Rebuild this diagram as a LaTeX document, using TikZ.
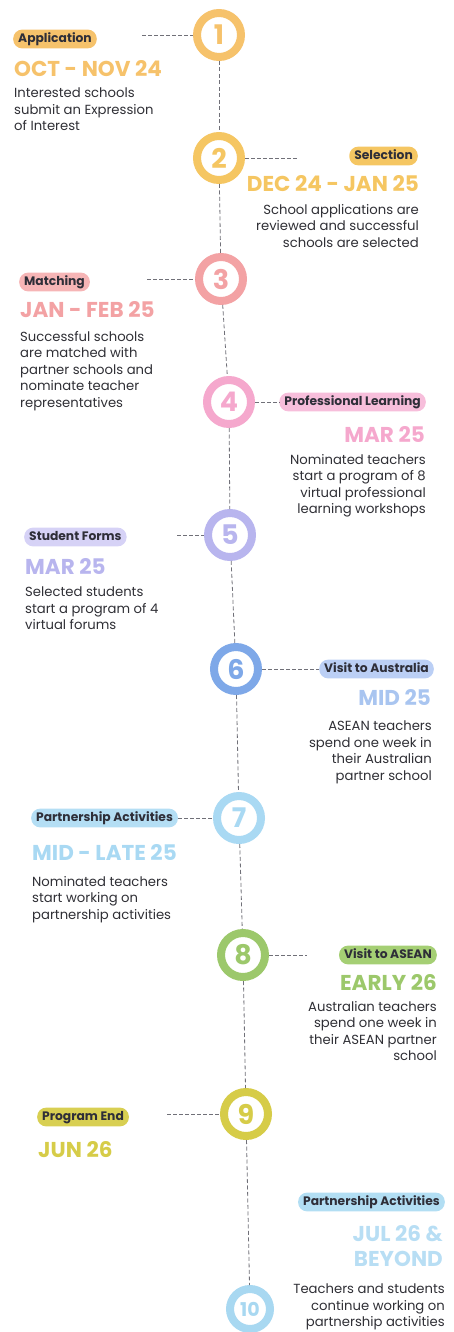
\documentclass[tikz,border=0pt]{standalone}
\usepackage{fontspec}
\setmainfont{Poppins}
\definecolor{labtext}{HTML}{2E2E38}
\definecolor{bodytext}{HTML}{2F2F35}
\definecolor{linegray}{HTML}{707078}
\definecolor{ca}{HTML}{F6C26B}
\definecolor{cb}{HTML}{F5C662}
\definecolor{cc}{HTML}{F3A2A4}
\definecolor{pc}{HTML}{F6B5B6}
\definecolor{cd}{HTML}{F5A8CD}
\definecolor{pd}{HTML}{F7BEDB}
\definecolor{ce}{HTML}{B8B5EE}
\definecolor{pe}{HTML}{D6D2F6}
\definecolor{cf}{HTML}{7EA8E8}
\definecolor{pf}{HTML}{BBCFF5}
\definecolor{df}{HTML}{A9C5F0}
\definecolor{cg}{HTML}{A9D9F3}
\definecolor{pg}{HTML}{B4DEF4}
\definecolor{ch}{HTML}{9CC86B}
\definecolor{ph}{HTML}{A5CF74}
\definecolor{ci}{HTML}{D6CC48}
\definecolor{pi}{HTML}{D8CF52}
\definecolor{cj}{HTML}{A8D8F1}
\definecolor{pj}{HTML}{B2DEF3}
\definecolor{dj}{HTML}{B8DEF4}
\tikzset{
  ring/.style={circle, draw=#1, line width=8pt, fill=white, minimum size=44pt,
    inner sep=0pt, outer sep=4pt, text=#1, font=\fontsize{27}{27}\selectfont\bfseries},
  pill/.style={fill=#1, rounded corners=9pt, inner xsep=5pt, inner ysep=3.5pt,
    text=labtext, text height=9pt, text depth=2.8pt,
    font=\fontsize{12.3}{12.3}\selectfont\bfseries},
  datetxt/.style={inner sep=0pt, text=#1, font=\fontsize{21.5}{25}\selectfont\bfseries},
  bodyl/.style={inner sep=0pt, text=bodytext, align=left, font=\fontsize{13.2}{16.5}\selectfont},
  bodyr/.style={inner sep=0pt, text=bodytext, align=right, font=\fontsize{13.2}{16.5}\selectfont},
  conn/.style={draw=linegray, line width=0.8pt, dash pattern=on 4pt off 2pt},
  vline/.style={draw=linegray, line width=0.8pt, dash pattern=on 4pt off 2.5pt}
}
\begin{document}
\begin{tikzpicture}[x=1pt,y=-1pt]
\useasboundingbox (0,0) rectangle (453,1332);
\clip (0,0) rectangle (453,1332);
% circles
\node[ring=ca] (c1) at (219,35) {1};
\node[ring=cb] (c2) at (219,158) {2};
\node[ring=cc] (c3) at (221,279) {3};
\node[ring=cd] (c4) at (229,402) {4};
\node[ring=ce] (c5) at (230,535) {5};
\node[ring=cf] (c6) at (236,669) {6};
\node[ring=cg] (c7) at (239,818) {7};
\node[ring=ch] (c8) at (243,955) {8};
\node[ring=ci] (c9) at (246,1114) {9};
\node[ring=cj, minimum size=40pt, font=\fontsize{19}{19}\selectfont\bfseries] (c10) at (250,1309) {10};
% vertical connectors
\draw[vline] (c1) -- (c2);
\draw[vline] (c2) -- (c3);
\draw[vline] (c3) -- (c4);
\draw[vline] (c4) -- (c5);
\draw[vline] (c5) -- (c6);
\draw[vline] (c6) -- (c7);
\draw[vline] (c7) -- (c8);
\draw[vline] (c8) -- (c9);
\draw[vline] (c9) -- (c10);
% step 1
\node[pill=ca, anchor=west] (l1) at (13,39) {Application};
\node[datetxt=ca, anchor=west] (d1) at (14,69) {OCT - NOV 24};
\node[bodyl, anchor=north west] (b1) at (14,88) {Interested schools\\submit an Expression\\of Interest};
\coordinate (e1) at (142,35);
\draw[conn] (e1) -- (c1);
% step 2
\node[pill=cb, anchor=east] (l2) at (418,156) {Selection};
\node[datetxt=cb, anchor=east] (d2) at (419,184) {DEC 24 - JAN 25};
\node[bodyr, anchor=north east] (b2) at (419,204) {School applications are\\reviewed and successful\\schools are selected};
\coordinate (e2) at (298,158);
\draw[conn] (c2) -- (e2);
% step 3
\node[pill=pc, anchor=west] (l3) at (19,282) {Matching};
\node[datetxt=cc, anchor=west] (d3) at (20,310) {JAN - FEB 25};
\node[bodyl, anchor=north west] (b3) at (20,331) {Successful schools\\are matched with\\partner schools and\\nominate teacher\\representatives};
\coordinate (e3) at (147,279);
\draw[conn] (e3) -- (c3);
% step 4
\node[pill=pd, anchor=east] (l4) at (426,402) {Professional Learning};
\node[datetxt=cd, anchor=east] (d4) at (425,434) {MAR 25};
\node[bodyr, anchor=north east] (b4) at (426,454) {Nominated teachers\\start a program of 8\\virtual professional\\learning workshops};
\draw[conn] (c4) -- (l4);
% step 5
\node[pill=pe, anchor=west] (l5) at (24,537) {Student Forms};
\node[datetxt=ce, anchor=west] (d5) at (25,566) {MAR 25};
\node[bodyl, anchor=north west] (b5) at (25,587) {Selected students\\start a program of 4\\virtual forums};
\coordinate (e5) at (177,535);
\draw[conn] (e5) -- (c5);
% step 6
\node[pill=pf, anchor=east] (l6) at (434,669) {Visit to Australia};
\node[datetxt=df, anchor=east] (d6) at (431,697) {MID 25};
\node[bodyr, anchor=north east] (b6) at (432,721) {ASEAN teachers\\spend one week in\\their Australian\\partner school};
\draw[conn] (c6) -- (l6);
% step 7
\node[pill=pg, anchor=west] (l7) at (31,818) {Partnership Activities};
\node[datetxt=cg, anchor=west] (d7) at (32,852) {MID - LATE 25};
\node[bodyl, anchor=north west] (b7) at (32,876) {Nominated teachers\\start working on\\partnership activities};
\draw[conn] (l7) -- (c7);
% step 8
\node[pill=ph, anchor=east] (l8) at (437,955) {Visit to ASEAN};
\node[datetxt=ch, anchor=east] (d8) at (437,983) {EARLY 26};
\node[bodyr, anchor=north east] (b8) at (437,1001) {Australian teachers\\spend one week in\\their ASEAN partner\\school};
\coordinate (e8) at (307,955);
\draw[conn] (c8) -- (e8);
% step 9
\node[pill=pi, anchor=west] (l9) at (37,1117) {Program End};
\node[datetxt=ci, anchor=west] (d9) at (38,1150) {JUN 26};
\coordinate (e9) at (167,1114);
\draw[conn] (e9) -- (c9);
% step 10
\node[pill=pj, anchor=east] (l10) at (445,1202) {Partnership Activities};
\node[datetxt=dj, anchor=north east, align=right] (d10) at (443,1225) {JUL 26 \&\\BEYOND};
\node[bodyr, anchor=north east] (b10) at (445,1284) {Teachers and students\\continue working on\\partnership activities};
\end{tikzpicture}
\end{document}
